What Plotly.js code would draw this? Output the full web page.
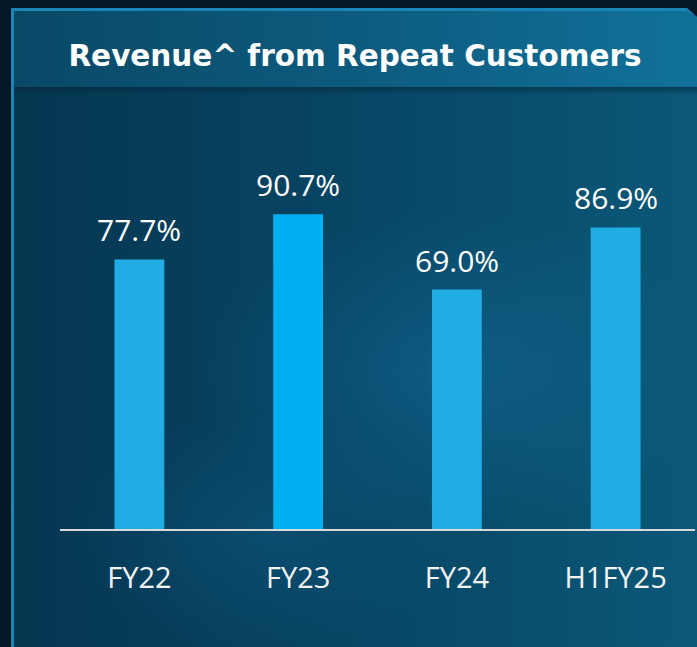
<!DOCTYPE html>
<html>
<head>
<meta charset="utf-8">
<script src="https://cdn.plot.ly/plotly-3.0.1.min.js"></script>
<style>
  html, body { margin:0; padding:0; width:697px; height:647px; overflow:hidden; background:#031826; }
  #panel { position:absolute; left:11px; top:8px; width:686px; height:639px;
    background:#1a86b8;
    clip-path: polygon(0 0, 676px 0, 686px 9px, 686px 639px, 0 639px); }
  #body { position:absolute; left:14px; top:11px; width:683px; height:636px;
    background:
      radial-gradient(ellipse 260px 160px at 440px 360px, rgba(20,110,160,0.45), rgba(20,110,160,0) 100%),
      radial-gradient(ellipse 200px 120px at 250px 520px, rgba(20,100,150,0.30), rgba(20,100,150,0) 100%),
      linear-gradient(90deg, #053650 0%, #074462 45%, #0b5878 100%);
    clip-path: polygon(0 0, 673px 0, 683px 6px, 683px 636px, 0 636px); }
  #header { position:absolute; left:14px; top:11px; width:683px; height:76px;
    background: linear-gradient(90deg, #0a4866 0%, #0c5b7e 50%, #11719a 100%);
    clip-path: polygon(0 0, 673px 0, 683px 6px, 683px 76px, 0 76px); }
  #hshade { position:absolute; left:14px; top:87px; width:683px; height:8px;
    background: linear-gradient(180deg, rgba(4,40,60,0.6), rgba(4,40,60,0)); }
  #chart { position:absolute; left:0; top:0; width:697px; height:647px; }
</style>
</head>
<body>
<div id="panel"></div>
<div id="body"></div>
<div id="header"></div>
<div id="hshade"></div>
<div id="chart"></div>
<script>
const titleText = "Revenue^ from Repeat Customers";
const categories = ["FY22", "FY23", "FY24", "H1FY25"];
const values = [77.7, 90.7, 69.0, 86.9];
const barColors = ["#20ade3", "#00b0f0", "#20ade3", "#20ade3"];

const trace = {
  type: "bar",
  x: categories,
  y: values,
  width: 0.314,
  marker: { color: barColors, line: { width: 0 } },
  hoverinfo: "skip"
};

const annotations = categories.map((c, i) => ({
  x: c, y: values[i], xref: "x", yref: "y",
  text: values[i].toFixed(1) + "%",
  showarrow: false, yanchor: "bottom", yshift: 7,
  font: { family: "Open Sans", size: 30, color: "#ffffff" }
}));

const layout = {
  width: 697, height: 647,
  paper_bgcolor: "rgba(0,0,0,0)", plot_bgcolor: "rgba(0,0,0,0)",
  margin: { l: 59.5, r: 1.5, t: 181.7, b: 117.5, pad: 0 },
  showlegend: false,
  title: {
    text: "<b>" + titleText + "</b>",
    x: 355 / 697, xanchor: "center", xref: "container",
    y: 1 - 56 / 647, yanchor: "middle", yref: "container",
    font: { family: "DejaVu Sans", size: 29.5, color: "#ffffff" }
  },
  xaxis: {
    type: "category", range: [-0.5, 3.5],
    showline: true, linecolor: "#d8d8d8", linewidth: 2,
    showgrid: false, zeroline: false, ticks: "",
    tickfont: { family: "Open Sans", size: 29, color: "#f4f4f4" },
    ticklabelstandoff: 22, fixedrange: true
  },
  yaxis: {
    range: [0, 100], visible: false, showgrid: false, zeroline: false, fixedrange: true
  },
  annotations: annotations
};

Plotly.newPlot("chart", [trace], layout, { displayModeBar: false, staticPlot: true });
</script>
</body>
</html>
